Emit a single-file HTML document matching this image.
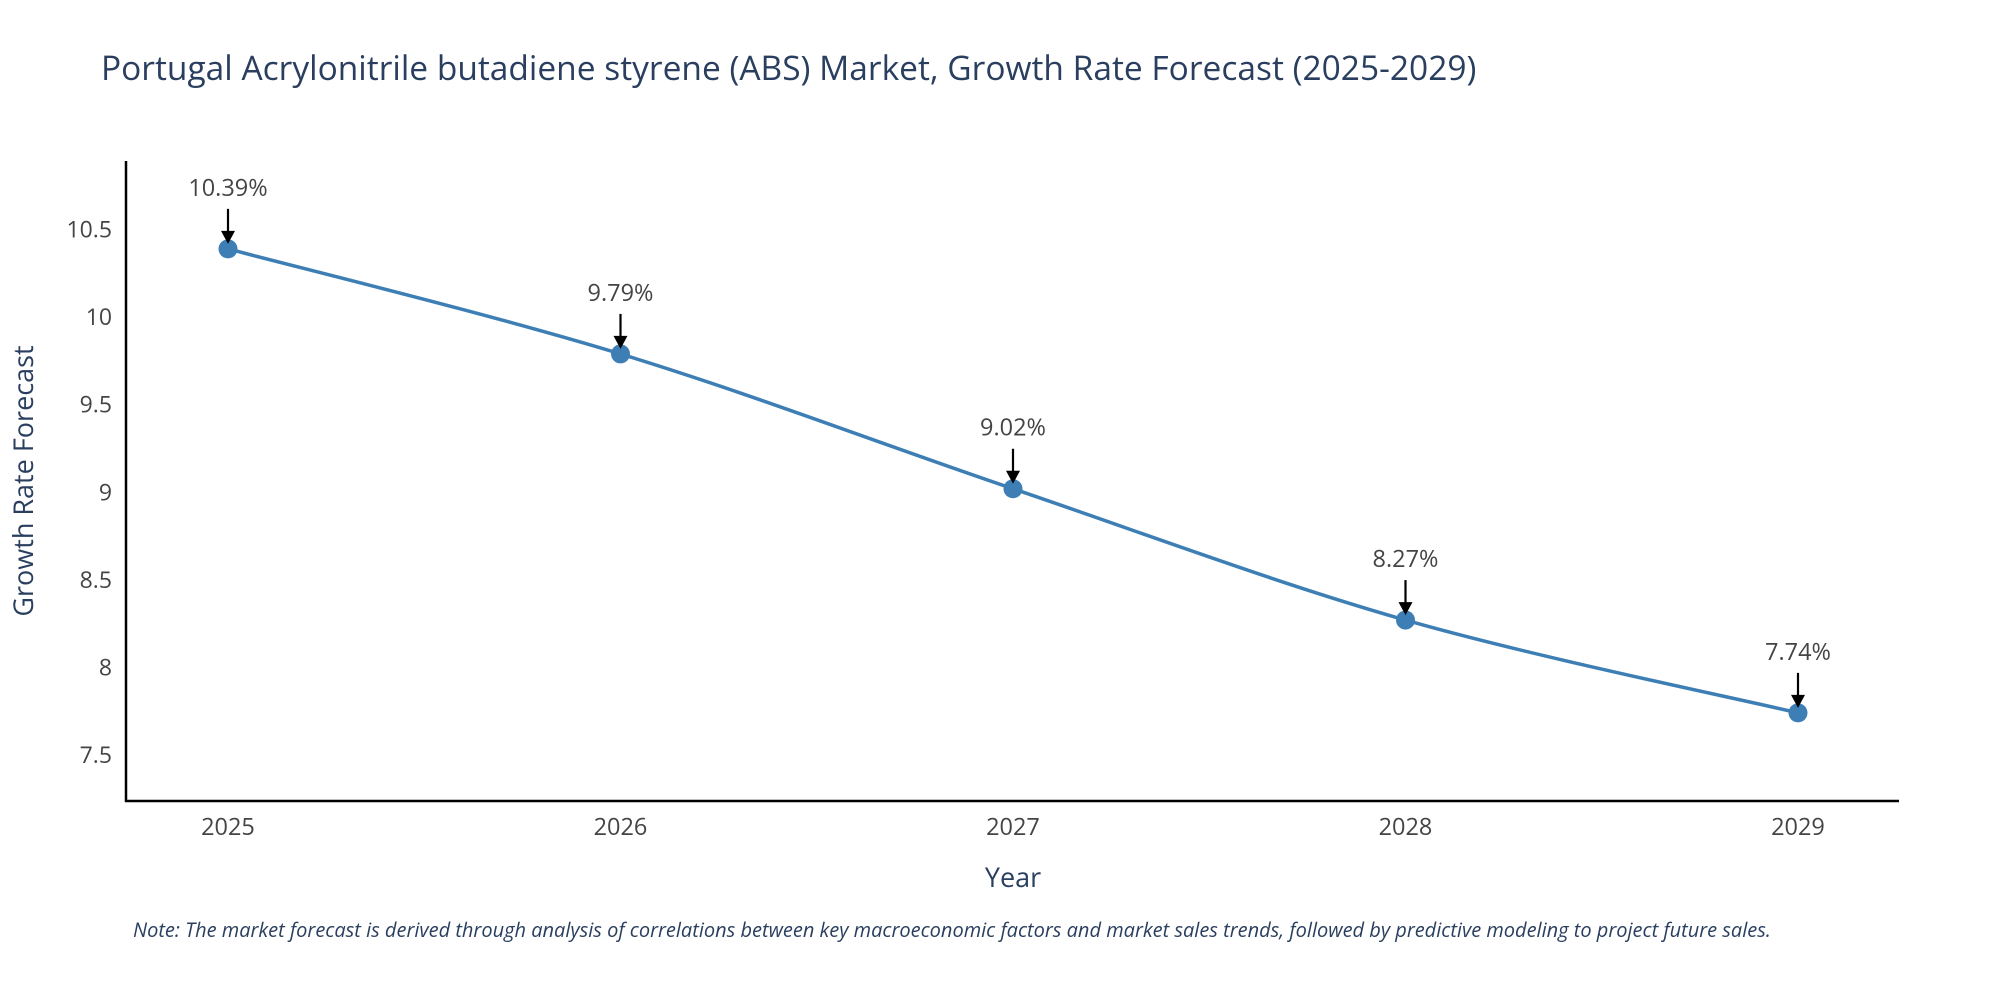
<!DOCTYPE html>
<html><head><meta charset="utf-8"><style>
body{margin:0;background:#fff;}
svg{display:block;font-family:"Open Sans","Liberation Sans",sans-serif;}
</style></head><body>
<svg id="chart" width="2000" height="1000" viewBox="0 0 2000 1000">
<text x="101" y="80" font-size="33.5" fill="#2a3f5f">Portugal Acrylonitrile butadiene styrene (ABS) Market, Growth Rate Forecast (2025-2029)</text>
<g id="yticks"></g>
<g id="xticks"></g>
<line x1="126" y1="161" x2="126" y2="802" stroke="#000" stroke-width="2.5"/>
<line x1="125" y1="801" x2="1899" y2="801" stroke="#000" stroke-width="2.5"/>
<path id="line" fill="none" stroke="#3d7fb5" stroke-width="3.5"/>
<g id="points"></g>
<g id="annots"></g>
<text transform="translate(33,481) rotate(-90)" text-anchor="middle" font-size="27" fill="#2a3f5f">Growth Rate Forecast</text>
<text x="1013" y="887" text-anchor="middle" font-size="27" fill="#2a3f5f">Year</text>
<text x="133" y="937" font-size="20" font-style="italic" fill="#2a3f5f">Note: The market forecast is derived through analysis of correlations between key macroeconomic factors and market sales trends, followed by predictive modeling to project future sales.</text>
</svg>
<script>
const years = ["2025","2026","2027","2028","2029"];
const values = [10.39, 9.79, 9.02, 8.27, 7.74];
const yTickValues = [7.5, 8, 8.5, 9, 9.5, 10, 10.5];
const yTickLabels = ["7.5","8","8.5","9","9.5","10","10.5"];
const NS="http://www.w3.org/2000/svg";
function xs(i){return 228 + i*(1798-228)/(years.length-1);}
function ys(v){return 229.6 + (10.5-v)*175.1;}
function mk(t,a,p){const e=document.createElementNS(NS,t);for(const k in a)e.setAttribute(k,a[k]);if(p)p.appendChild(e);return e;}
const yt=document.getElementById('yticks');
yTickValues.forEach((v,i)=>{const t=mk('text',{x:112,y:ys(v)+8,'text-anchor':'end','font-size':23,fill:'#444'},yt);


t.textContent=yTickLabels[i];});
const xt=document.getElementById('xticks');
years.forEach((y,i)=>{const t=mk('text',{x:xs(i),y:835,'text-anchor':'middle','font-size':23.5,fill:'#444'},xt);


t.textContent=y;});
const P=values.map((v,i)=>[xs(i),ys(v)]);
let d='M'+P[0][0]+','+P[0][1];
for(let i=0;i<P.length-1;i++){const p0=P[Math.max(i-1,0)],p1=P[i],p2=P[i+1],p3=P[Math.min(i+2,P.length-1)];const s=6;
d+=' C'+(p1[0]+(p2[0]-p0[0])/s)+','+(p1[1]+(p2[1]-p0[1])/s)+' '+(p2[0]-(p3[0]-p1[0])/s)+','+(p2[1]-(p3[1]-p1[1])/s)+' '+p2[0]+','+p2[1];}
document.getElementById('line').setAttribute('d',d);
const pg=document.getElementById('points'),ag=document.getElementById('annots');
P.forEach((p,i)=>{const c=mk('circle',{cx:p[0],cy:p[1],r:9.5,fill:'#3d7fb5'},pg);


const l=mk('line',{x1:p[0],y1:p[1]-40,x2:p[0],y2:p[1]-16,stroke:'#000','stroke-width':2.2},ag);


const h=mk('path',{d:`M${p[0]-7},${p[1]-18} L${p[0]+7},${p[1]-18} L${p[0]},${p[1]-5} Z`,fill:'#000'},ag);


const t=mk('text',{x:p[0],y:p[1]-53,'text-anchor':'middle','font-size':23.5,fill:'#444'},ag);


t.textContent=values[i].toFixed(2)+'%';});
</script>
</body></html>
